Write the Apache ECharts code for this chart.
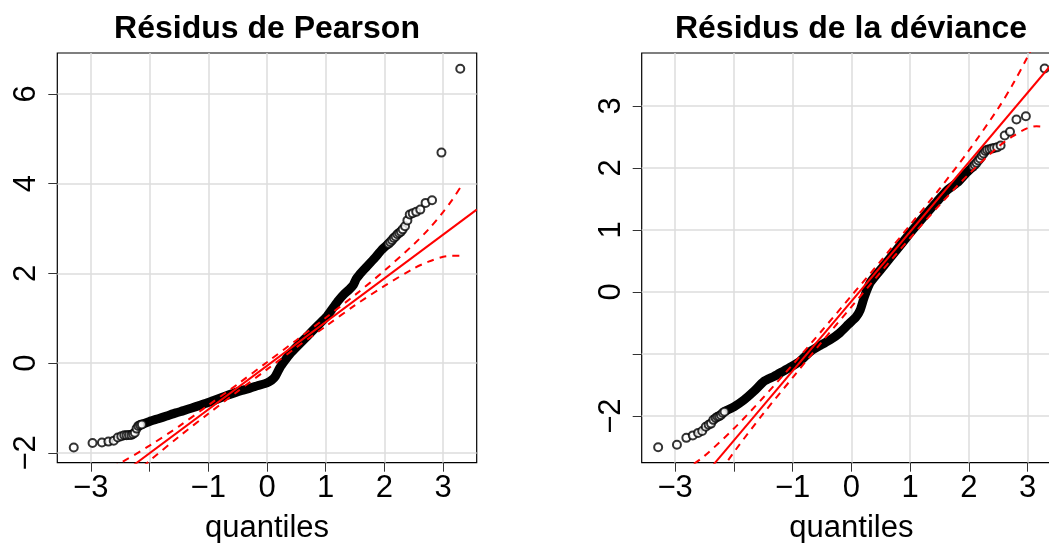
<!DOCTYPE html>
<html>
<head>
<meta charset="utf-8">
<script src="https://cdn.jsdelivr.net/npm/echarts@6/dist/echarts.min.js"></script>
<style>
  html, body { margin: 0; padding: 0; background: #fff; }
  #main { width: 1049px; height: 543px; }
</style>
</head>
<body>
<div id="main"></div>
<script>
// titres et axes
var titles = ['Résidus de Pearson', 'Résidus de la déviance'];
var xTicks = [-3, -2, -1, 0, 1, 2, 3];
var xLabels = [-3, -1, 0, 1, 2, 3];
var pearsonYTicks = [-2, 0, 2, 4, 6];
var pearsonYLabels = [-2, 0, 2, 4, 6];
var devYTicks = [-2, -1, 0, 1, 2, 3];
var devYLabels = [-2, 0, 1, 2, 3];

// résidus de Pearson : points isolés des queues
var pearsonTails = [
    [-3.29, -1.88], [-2.97, -1.78], [-2.81, -1.77], [-2.70, -1.75], [-2.61, -1.73],
    [-2.54, -1.66], [-2.48, -1.63], [-2.43, -1.61], [-2.39, -1.61], [-2.35, -1.60],
    [-2.31, -1.60], [-2.28, -1.58], [-2.25, -1.55], [-2.22, -1.46], [-2.19, -1.40],
    [-2.16, -1.38], [-2.13, -1.37],
    [2.07, 2.66], [2.10, 2.70], [2.13, 2.74], [2.16, 2.79], [2.19, 2.82], [2.22, 2.87],
    [2.25, 2.90], [2.28, 2.93], [2.31, 2.98], [2.35, 3.05], [2.39, 3.18], [2.43, 3.31],
    [2.48, 3.34], [2.54, 3.37], [2.61, 3.42], [2.70, 3.57], [2.81, 3.63], [2.97, 4.69],
    [3.29, 6.56]
];
// partie dense (bande noire)
var pearsonBand = [
    [-2.16, -1.38], [-2.0, -1.30], [-1.85, -1.24], [-1.71, -1.18], [-1.55, -1.11],
    [-1.42, -1.06], [-1.28, -1.00], [-1.14, -0.94], [-1.0, -0.88], [-0.86, -0.81],
    [-0.70, -0.73], [-0.57, -0.67], [-0.43, -0.61], [-0.29, -0.56], [-0.15, -0.50],
    [0.0, -0.44], [0.08, -0.38], [0.14, -0.30], [0.22, -0.10], [0.30, 0.05],
    [0.40, 0.22], [0.51, 0.37], [0.68, 0.59], [0.85, 0.82], [1.02, 1.04], [1.13, 1.24],
    [1.22, 1.40], [1.30, 1.52], [1.40, 1.64], [1.47, 1.74], [1.52, 1.88], [1.58, 1.98],
    [1.64, 2.07], [1.72, 2.18], [1.84, 2.35], [1.95, 2.52], [2.05, 2.64]
];
var pearsonFit = [[-3.57, -3.54], [3.57, 3.42]];

// résidus de la déviance
var devTails = [
    [-3.29, -2.50], [-2.97, -2.46], [-2.81, -2.35], [-2.70, -2.31], [-2.61, -2.27],
    [-2.54, -2.24], [-2.48, -2.17], [-2.43, -2.14], [-2.39, -2.12], [-2.35, -2.06],
    [-2.31, -2.03], [-2.28, -2.01], [-2.25, -2.00], [-2.22, -1.98], [-2.19, -1.95],
    [-2.16, -1.93],
    [2.07, 2.02], [2.10, 2.05], [2.13, 2.08], [2.16, 2.12], [2.19, 2.15], [2.22, 2.20],
    [2.25, 2.23], [2.28, 2.27], [2.31, 2.29], [2.35, 2.30], [2.39, 2.31], [2.43, 2.32],
    [2.48, 2.33], [2.54, 2.36], [2.61, 2.52], [2.70, 2.58], [2.81, 2.78], [2.97, 2.83],
    [3.29, 3.60]
];
var devBand = [
    [-2.13, -1.91], [-2.0, -1.85], [-1.83, -1.74], [-1.66, -1.60], [-1.49, -1.44],
    [-1.32, -1.36], [-1.15, -1.27], [-1.0, -1.19], [-0.87, -1.11], [-0.70, -0.96],
    [-0.53, -0.86], [-0.36, -0.77], [-0.20, -0.66], [-0.05, -0.52], [0.08, -0.40],
    [0.15, -0.29], [0.22, -0.08], [0.32, 0.15], [0.55, 0.42], [0.78, 0.69], [1.0, 0.95],
    [1.23, 1.21], [1.46, 1.46], [1.63, 1.64], [1.80, 1.76], [1.94, 1.90], [2.05, 2.00]
];
var devFit = [[-3.57, -4.15], [3.57, 3.85]];

// enveloppes de confiance (pointillés)
var envX = [-3.29, -3.15, -3, -2.75, -2.5, -2, -1.5, -1, -0.5, 0, 0.5, 1, 1.5, 2, 2.5, 2.75, 3, 3.15, 3.29];
var pearsonUpper = [-2.51, -2.51, -2.49, -2.38, -2.23, -1.84, -1.41, -0.94, -0.47, 0.02, 0.51, 1.01, 1.52, 2.06, 2.65, 2.98, 3.37, 3.63, 3.91];
var pearsonLower = [-4.03, -3.75, -3.49, -3.10, -2.77, -2.18, -1.64, -1.13, -0.63, -0.14, 0.35, 0.82, 1.29, 1.72, 2.11, 2.26, 2.37, 2.39, 2.39];
var devUpper = [-2.96, -2.97, -2.94, -2.81, -2.64, -2.20, -1.70, -1.17, -0.62, -0.06, 0.50, 1.08, 1.66, 2.28, 2.96, 3.35, 3.79, 4.09, 4.41];
var devLower = [-4.71, -4.39, -4.09, -3.65, -3.26, -2.58, -1.96, -1.38, -0.80, -0.24, 0.32, 0.87, 1.40, 1.90, 2.34, 2.51, 2.64, 2.67, 2.66];

function zip(xs, ys) {
    var out = [];
    for (var i = 0; i < xs.length; i++) out.push([xs[i], ys[i]]);
    return out;
}
function minus(v) { return String(v).replace('-', '\u2212'); }

var FONT = '"Liberation Sans", Arial, sans-serif';
var grids = [
    { left: 57.3, top: 53, width: 419.4, height: 409.7 },
    { left: 641.7, top: 53, width: 419.4, height: 409.7 }  // sort du cadre à droite, comme l'original
];

function xAxisFor(i) {
    return {
        gridIndex: i, type: 'value', min: -3.57, max: 3.57,
        name: 'quantiles', nameLocation: 'middle', nameGap: 50,
        nameTextStyle: { fontFamily: FONT, fontSize: 31, color: '#000' },
        axisLine: { show: false, onZero: false },
        axisTick: { show: true, length: 9, customValues: xTicks, lineStyle: { color: '#333', width: 1 } },
        axisLabel: { customValues: xLabels, margin: 10, fontFamily: FONT, fontSize: 31, color: '#000', formatter: minus },
        splitLine: { show: true, lineStyle: { color: '#dcdcdc', width: 1.5 } }
    };
}
function yAxisFor(i, mn, mx, ticks, labels) {
    return {
        gridIndex: i, type: 'value', min: mn, max: mx,
        axisLine: { show: false, onZero: false },
        axisTick: { show: true, length: 9, customValues: ticks, lineStyle: { color: '#333', width: 1 } },
        axisLabel: { customValues: labels, rotate: 90, margin: 15, fontFamily: FONT, fontSize: 31, color: '#000', formatter: minus },
        splitLine: { show: true, lineStyle: { color: '#dcdcdc', width: 1.5 } }
    };
}

function panelSeries(i, band, tails, fit, upper, lower) {
    return [
        { type: 'line', xAxisIndex: i, yAxisIndex: i, data: band, symbol: 'none', smooth: 0.2,
          lineStyle: { color: '#000', width: 9, cap: 'round', join: 'round' }, z: 2 },
        { type: 'scatter', xAxisIndex: i, yAxisIndex: i, data: tails, symbol: 'emptyCircle', symbolSize: 8,
          itemStyle: { color: '#000', borderColor: '#000', borderWidth: 1 }, z: 3 },
        { type: 'line', xAxisIndex: i, yAxisIndex: i, data: fit, symbol: 'none',
          lineStyle: { color: '#ff0000', width: 2 }, z: 4 },
        { type: 'line', xAxisIndex: i, yAxisIndex: i, data: zip(envX, upper), symbol: 'none', smooth: 0.3,
          lineStyle: { color: '#ff0000', width: 2, type: [7, 6] }, z: 4 },
        { type: 'line', xAxisIndex: i, yAxisIndex: i, data: zip(envX, lower), symbol: 'none', smooth: 0.3,
          lineStyle: { color: '#ff0000', width: 2, type: [7, 6] }, z: 4 }
    ];
}

var myChart = echarts.init(document.getElementById('main'), null, { renderer: 'canvas' });
var option = {
    animation: false,
    backgroundColor: '#fff',
    title: [
        { text: titles[0], left: 267, top: 13, textAlign: 'center', padding: 0,
          textStyle: { fontFamily: FONT, fontSize: 32, fontWeight: 'bold', color: '#000' } },
        { text: titles[1], left: 851, top: 13, textAlign: 'center', padding: 0,
          textStyle: { fontFamily: FONT, fontSize: 32, fontWeight: 'bold', color: '#000' } }
    ],
    grid: grids.map(function (g) {
        return { left: g.left, top: g.top, width: g.width, height: g.height,
                 outerBoundsMode: 'none', containLabel: false,
                 show: true, borderColor: '#000', borderWidth: 1.2, backgroundColor: 'transparent' };
    }),
    xAxis: [xAxisFor(0), xAxisFor(1)],
    yAxis: [
        yAxisFor(0, -2.22, 6.91, pearsonYTicks, pearsonYLabels),
        yAxisFor(1, -2.75, 3.85, devYTicks, devYLabels)
    ],
    series: panelSeries(0, pearsonBand, pearsonTails, pearsonFit, pearsonUpper, pearsonLower)
        .concat(panelSeries(1, devBand, devTails, devFit, devUpper, devLower))
};
myChart.setOption(option);
</script>
</body>
</html>
